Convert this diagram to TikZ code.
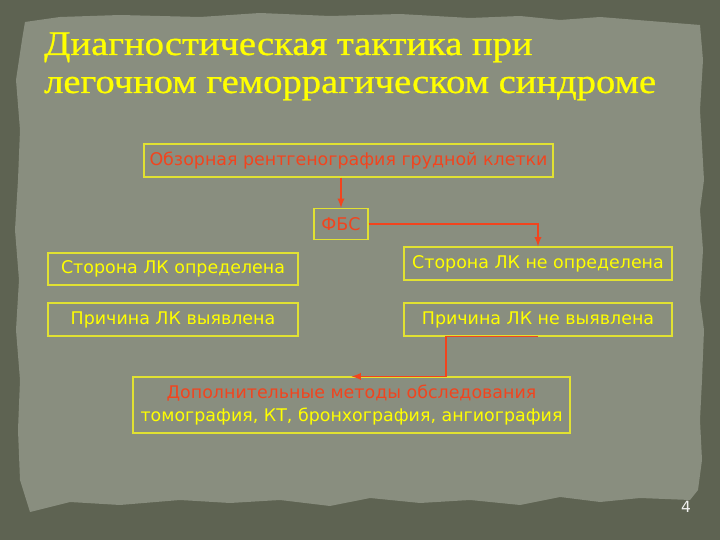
\documentclass[tikz,border=0pt]{standalone}
\usepackage{fontspec}
\setmainfont[FakeStretch=1.12, FakeBold=0.8]{Liberation Serif}
\setsansfont{DejaVu Sans}
\usepackage{tikz}
\usetikzlibrary{positioning}

\definecolor{frame}{RGB}{94,99,82}
\definecolor{paper}{RGB}{137,142,127}
\definecolor{ltyel}{RGB}{255,255,0}
\definecolor{boxyel}{RGB}{225,225,50}
\definecolor{ltred}{RGB}{242,68,30}

\begin{document}
\begin{tikzpicture}[
  box/.style={draw=boxyel, line width=0.8pt, inner sep=0pt, font=\sffamily\fontsize{12.4}{15}\selectfont},
  redtext/.style={text=ltred},
  yeltext/.style={text=ltyel},
  link/.style={draw=ltred, line width=1.3pt, -latex}
]
\useasboundingbox (0,0) rectangle (18,13.5);
\fill[frame] (0,0) rectangle (18,13.5);
% This is the torn sheet of paper
\fill[paper] (0.625,12.95) -- (1.5,13.075) -- (3,13.125) -- (5,13.075) -- (6.5,13.175)
  -- (8.25,13.1) -- (10,13.15) -- (11.75,13.05) -- (13,13.1) -- (14,13) -- (15,13.075)
  -- (16.25,12.975) -- (17.5,12.875) -- (17.575,12) -- (17.5,10.75) -- (17.6,9)
  -- (17.5,8.25) -- (17.575,7.25) -- (17.5,6) -- (17.6,5.25) -- (17.55,4) -- (17.5,3)
  -- (17.55,2) -- (17.45,1.25) -- (17.25,1) -- (16,1.05) -- (15,0.95) -- (14,1.075)
  -- (13,0.875) -- (11.75,1) -- (10.5,0.925) -- (9.25,1.05) -- (8.25,0.85) -- (7,1)
  -- (5.75,0.925) -- (4.5,1) -- (3,0.875) -- (1.75,0.95) -- (0.75,0.7) -- (0.5,1.5)
  -- (0.45,2.75) -- (0.5,4) -- (0.4,5.25) -- (0.475,6.5) -- (0.375,7.75) -- (0.45,9)
  -- (0.5,10.25) -- (0.4,11.5) -- (0.55,12.5) -- cycle;

\node[anchor=base west, text=ltyel, font=\fontsize{24.5}{29}\selectfont] (title1) at (0.98,12.125) {Диагностическая тактика при};
\node[anchor=base west, text=ltyel, font=\fontsize{24.5}{29}\selectfont] (title2) at (0.98,11.175) {легочном геморрагическом синдроме};

\node[box, redtext, minimum width=10.225cm, minimum height=0.825cm] (obzor) at (8.7125,9.4875) {Обзорная рентгенография грудной клетки};
\node[box, redtext, minimum width=1.35cm, minimum height=0.775cm] (fbs) at (8.525,7.9) {ФБС};
\node[box, yeltext, minimum width=6.25cm, minimum height=0.8cm] (storona) at (4.325,6.775) {Сторона ЛК определена};
\node[box, yeltext, minimum width=6.7cm, minimum height=0.825cm] (storonane) at (13.45,6.9125) {Сторона ЛК не определена};
\node[box, yeltext, minimum width=6.25cm, minimum height=0.825cm] (prichina) at (4.325,5.5125) {Причина ЛК выявлена};
\node[box, yeltext, minimum width=6.7cm, minimum height=0.825cm] (prichinane) at (13.45,5.5125) {Причина ЛК не выявлена};
\node[box, align=center, minimum width=10.925cm, minimum height=1.4cm] (dop) at (8.7875,3.375)
  {\textcolor{ltred}{Дополнительные методы обследования}\\[1pt]
   \textcolor{ltyel}{томография, КТ, бронхография, ангиография}};

\draw[link] (obzor.south -| fbs.north) -- (fbs.north);
\draw[link] (fbs.east) -| (storonane.north);
\draw[link] (prichinane.south) -- ++(-2.3,0) |- (dop.north);

\node[text=white!88!paper, font=\sffamily\fontsize{11}{13}\selectfont] (page) at (17.15,0.83) {4};
\end{tikzpicture}
\end{document}
